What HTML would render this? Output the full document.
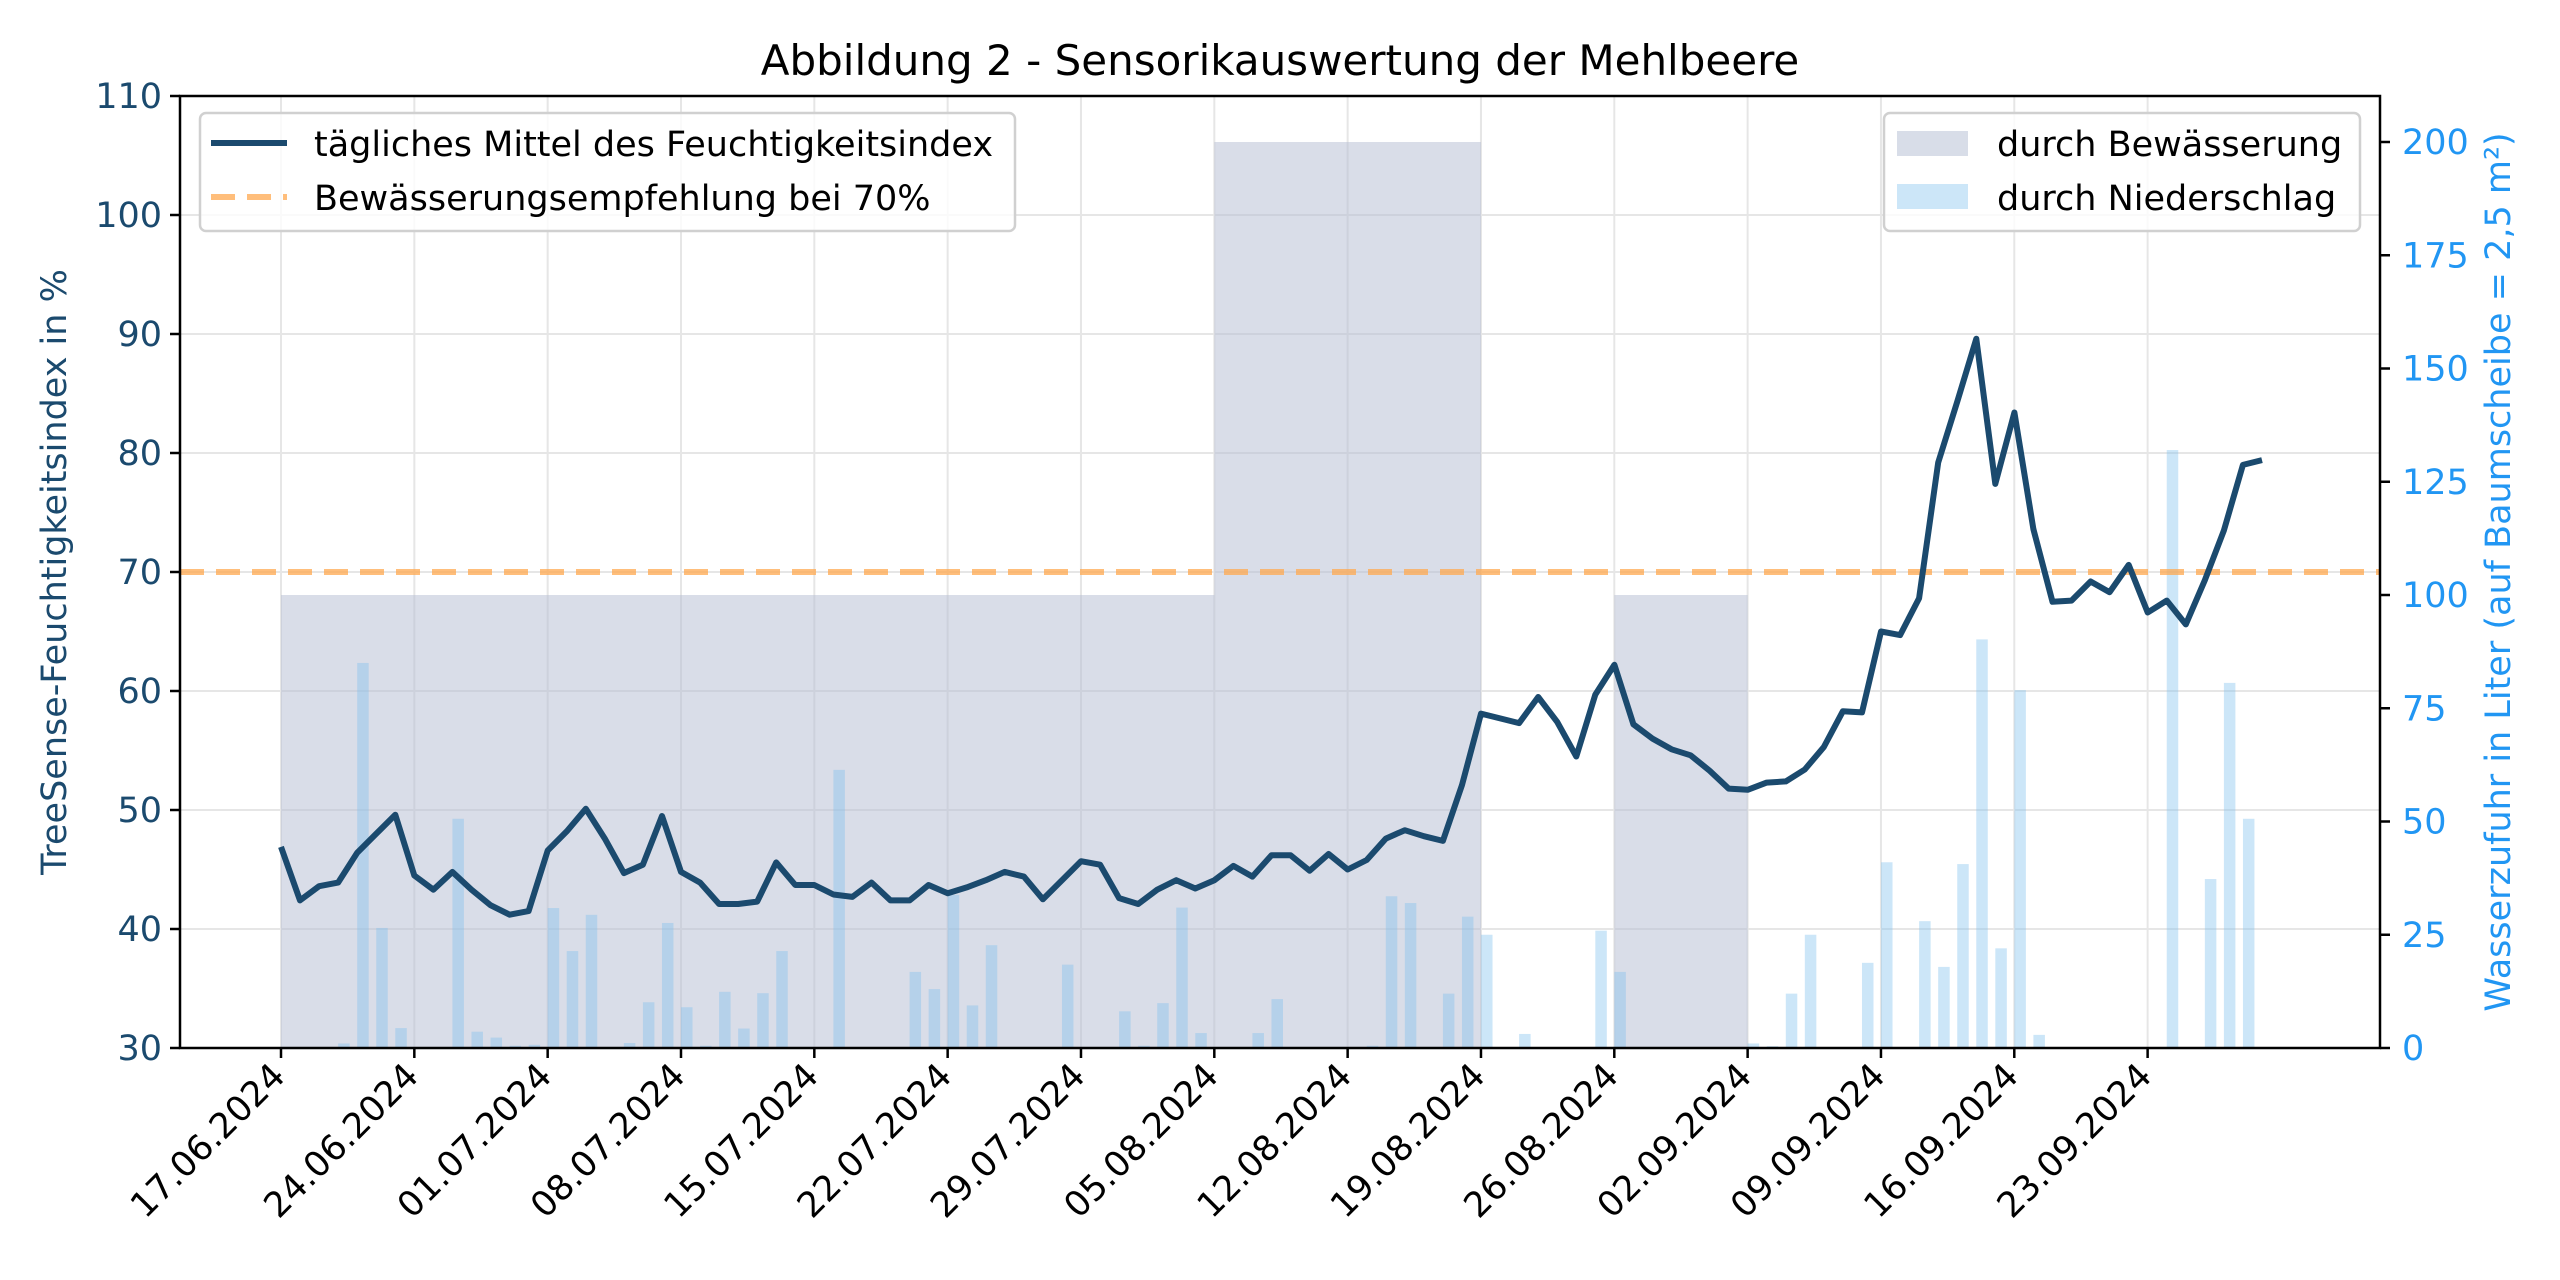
<!DOCTYPE html>
<html><head><meta charset="utf-8">
<style>
html,body{margin:0;padding:0;background:#fff;}
svg{display:block;font-family:"DejaVu Sans","Liberation Sans",sans-serif;}
</style></head>
<body>
<svg id="c" width="2560" height="1280" xmlns="http://www.w3.org/2000/svg"></svg>
<script>
const L=180,R=2380,T=96,B=1048;
const x0=281,step=19.048;
const yl=v=>B-(v-30)*11.9;
const yr=l=>B-l*4.53;
let s='';
// grid
for(let k=0;k<=14;k++){const x=x0+k*133.33;s+=`<line x1="${x}" y1="${T}" x2="${x}" y2="${B}" stroke="#e6e6e6" stroke-width="2"/>`;}
for(let v=40;v<=100;v+=10){s+=`<line x1="${L}" y1="${yl(v)}" x2="${R}" y2="${yl(v)}" stroke="#e6e6e6" stroke-width="2"/>`;}
// irrigation bars
const irr=[[0,49,100],[49,63,200],[70,77,100]];
irr.forEach(([a,b,h])=>{const xa=x0+a*step,xb=x0+b*step;s+=`<rect x="${xa}" y="${yr(h)}" width="${xb-xa}" height="${B-yr(h)}" fill="#b3bcd1" fill-opacity="0.5"/>`;});
// rain
const rain=[[3,1],[4,85],[5,26.5],[6,4.4],[9,50.6],[10,3.6],[11,2.3],[12,0.5],[13,0.7],[14,30.9],[15,21.4],[16,29.4],[18,1.1],[19,10.1],[20,27.6],[21,9],[22,0.5],[23,12.4],[24,4.3],[25,12.1],[26,21.4],[29,61.4],[33,16.8],[34,13],[35,33.8],[36,9.4],[37,22.7],[41,18.4],[44,8.1],[45,0.5],[46,9.9],[47,31],[48,3.3],[51,3.3],[52,10.8],[57,0.5],[58,33.5],[59,32],[61,12],[62,29],[63,25],[65,3.1],[69,25.9],[70,16.8],[77,1],[78,0.4],[79,12],[80,25],[83,18.8],[84,41],[86,28],[87,17.9],[88,40.6],[89,90.2],[90,22],[91,79],[92,2.9],[99,132],[101,37.3],[102,80.6],[103,50.6]];
rain.forEach(([d,l])=>{const x=x0+d*step;s+=`<rect x="${x}" y="${yr(l)}" width="11.5" height="${B-yr(l)}" fill="#7fc0ee" fill-opacity="0.4"/>`;});
// orange dashed
s+=`<line x1="${L}" y1="${yl(70)}" x2="${R}" y2="${yl(70)}" stroke="#ffa84f" stroke-opacity="0.75" stroke-width="6" stroke-dasharray="24,12"/>`;
// main line
const v=[46.9,42.4,43.6,43.9,46.4,48.0,49.6,44.5,43.3,44.8,43.3,42.0,41.2,41.5,46.6,48.2,50.1,47.6,44.7,45.4,49.5,44.8,43.9,42.1,42.1,42.3,45.6,43.7,43.7,42.9,42.7,43.9,42.4,42.4,43.7,43.0,43.5,44.1,44.8,44.4,42.5,44.1,45.7,45.4,42.6,42.1,43.3,44.1,43.4,44.1,45.3,44.4,46.2,46.2,44.9,46.3,45.0,45.8,47.6,48.3,47.8,47.4,52.1,58.1,57.7,57.3,59.5,57.4,54.5,59.7,62.2,57.2,56.0,55.1,54.6,53.3,51.8,51.7,52.3,52.4,53.4,55.3,58.3,58.2,65.0,64.7,67.8,79.2,84.3,89.6,77.4,83.4,73.6,67.5,67.6,69.2,68.3,70.6,66.6,67.6,65.6,69.3,73.5,79.0,79.4];
s+=`<polyline fill="none" stroke="#1b4a6e" stroke-width="6" stroke-linejoin="round" points="${v.map((val,i)=>(x0+i*step).toFixed(1)+','+yl(val).toFixed(1)).join(' ')}"/>`;
// spines
s+=`<rect x="${L}" y="${T}" width="${R-L}" height="${B-T}" fill="none" stroke="#000" stroke-width="2.5"/>`;
// left ticks
for(let t=30;t<=110;t+=10){const y=yl(t);s+=`<line x1="${L-10}" y1="${y}" x2="${L}" y2="${y}" stroke="#000" stroke-width="2.5"/><text x="${L-18}" y="${y+12}" font-size="35" fill="#1b4a6e" text-anchor="end">${t}</text>`;}
// right ticks
for(let t=0;t<=200;t+=25){const y=yr(t);s+=`<line x1="${R}" y1="${y}" x2="${R+10}" y2="${y}" stroke="#000" stroke-width="2.5"/><text x="${R+22}" y="${y+12}" font-size="35" fill="#2196f3">${t}</text>`;}
// x ticks
const lab=["17.06.2024","24.06.2024","01.07.2024","08.07.2024","15.07.2024","22.07.2024","29.07.2024","05.08.2024","12.08.2024","19.08.2024","26.08.2024","02.09.2024","09.09.2024","16.09.2024","23.09.2024"];
lab.forEach((t,k)=>{const x=x0+k*133.33;s+=`<line x1="${x}" y1="${B}" x2="${x}" y2="${B+10}" stroke="#000" stroke-width="2.5"/><text transform="translate(${x+6},${B+30}) rotate(-45)" font-size="35" text-anchor="end" fill="#000">${t}</text>`;});
// title
s+=`<text x="1280" y="75" font-size="42" text-anchor="middle" fill="#000">Abbildung 2 - Sensorikauswertung der Mehlbeere</text>`;
// axis labels
s+=`<text transform="translate(66,572) rotate(-90)" font-size="35" text-anchor="middle" fill="#1b4a6e">TreeSense-Feuchtigkeitsindex in %</text>`;
s+=`<text transform="translate(2510,572) rotate(-90)" font-size="35" text-anchor="middle" fill="#2196f3">Wasserzufuhr in Liter (auf Baumscheibe = 2,5 m²)</text>`;
// legend 1
s+=`<rect x="200" y="113" width="815" height="118" rx="6" fill="#fff" fill-opacity="0.8" stroke="#d0d0d0" stroke-width="2.5"/>`;
s+=`<line x1="211" y1="143" x2="287" y2="143" stroke="#1b4a6e" stroke-width="6"/>`;
s+=`<line x1="211" y1="197" x2="287" y2="197" stroke="#ffa84f" stroke-opacity="0.75" stroke-width="6" stroke-dasharray="24,12"/>`;
s+=`<text x="314" y="156" font-size="35" fill="#000">tägliches Mittel des Feuchtigkeitsindex</text>`;
s+=`<text x="314" y="210" font-size="35" fill="#000">Bewässerungsempfehlung bei 70%</text>`;
// legend 2
s+=`<rect x="1884" y="113" width="476" height="118" rx="6" fill="#fff" fill-opacity="0.8" stroke="#d0d0d0" stroke-width="2.5"/>`;
s+=`<rect x="1897" y="131" width="71" height="25" fill="#d8dde8"/>`;
s+=`<rect x="1897" y="184" width="71" height="25" fill="#cce6f8"/>`;
s+=`<text x="1997" y="156" font-size="35" fill="#000">durch Bewässerung</text>`;
s+=`<text x="1997" y="210" font-size="35" fill="#000">durch Niederschlag</text>`;
document.getElementById('c').innerHTML=s;
</script>
</body></html>
